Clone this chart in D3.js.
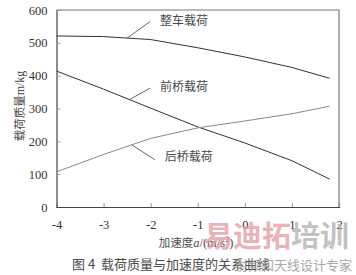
<!DOCTYPE html>
<html><head><meta charset="utf-8">
<script src="https://cdn.jsdelivr.net/npm/d3@7/dist/d3.min.js"></script>
<style>body{margin:0;background:#fff}svg{display:block}</style>
</head><body>
<svg id="c" width="356" height="275"></svg>
<script>
const accel = [-4, -3, -2, -1, 0, 1, 1.8];
const totalLoad = [521, 519, 510, 485, 457, 425, 392];
const frontLoad = [414, 359, 301, 244, 195, 141, 85];
const rearLoad  = [107, 160, 209, 241, 262, 284, 307];
const xTicks = [-4, -3, -2, -1, 0, 1, 2];
const yTicks = [0, 100, 200, 300, 400, 500, 600];
const seriesNames = ["整车载荷", "前桥载荷", "后桥载荷"];
// annotation anchors: [x on curve, label x, label y] in data units
const annoX = [-2.5, -2.45, -2.4];
const annoLabelX = [-1.8, -1.8, -1.7];
const annoLabelY = [568, 365, 153];

const svg = d3.select("#c");
const L = 56.5, R = 339, T = 10, B = 207;
const x = d3.scaleLinear().domain([-4, 2]).range([L, R]);
const y = d3.scaleLinear().domain([0, 600]).range([B, T]);
const serif = "'Liberation Serif','DejaVu Serif',serif";
const cjk = "'Noto Sans CJK SC','Noto Sans CJK JP',sans-serif";
const txt = "#4a4a4a";

// frame
svg.append("path").attr("d", `M${L},${T}H${R}V${B}`).attr("fill", "none").attr("stroke", "#777").attr("stroke-width", 1.2);

const yAxis = svg.append("g").attr("transform", `translate(${L},0)`)
  .call(d3.axisLeft(y).tickValues(yTicks).tickSize(-4).tickPadding(9).tickFormat(d3.format("d")));
const xAxis = svg.append("g").attr("transform", `translate(0,${B})`)
  .call(d3.axisBottom(x).tickValues(xTicks).tickSize(-4).tickPadding(13).tickFormat(d => d < 0 ? "-" + Math.abs(d) : d));
[yAxis, xAxis].forEach(g => {
  g.select(".domain").attr("stroke", "#444").attr("stroke-width", 1.2);
  g.selectAll(".tick line").attr("stroke", "#999");
  g.selectAll("text").attr("font-family", serif).attr("font-size", 12.5).attr("fill", "#333");
});

const line = d3.line().x((d, i) => x(accel[i])).y(d => y(d));
const series = [totalLoad, frontLoad, rearLoad];
const colors = ["#333", "#333", "#888"];
series.forEach((s, k) => {
  svg.append("path").attr("d", line(s)).attr("fill", "none").attr("stroke", colors[k]).attr("stroke-width", 1);
});

// annotations
function interp(s, xv) {
  return d3.scaleLinear().domain(accel).range(s)(xv);
}
series.forEach((s, k) => {
  const x0 = x(annoX[k]), y0 = y(interp(s, annoX[k]));
  const lx = x(annoLabelX[k]), ly = y(annoLabelY[k]);
  const ex = lx - 10, ey = k === 2 ? ly + 3 : ly + 1;
  svg.append("line").attr("x1", x0).attr("y1", y0).attr("x2", ex).attr("y2", ey)
    .attr("stroke", "#555").attr("stroke-width", 0.9);
  svg.append("text").attr("x", lx).attr("y", ly).attr("dy", "0.35em")
    .attr("font-family", cjk).attr("font-size", 12).attr("fill", txt).text(seriesNames[k]);
});

// axis titles
const yt = svg.append("text").attr("transform", "translate(24,106) rotate(-90)")
  .attr("text-anchor", "middle").attr("fill", txt);
yt.append("tspan").attr("font-family", cjk).attr("font-size", 11.5).text("载荷质量");
yt.append("tspan").attr("font-family", serif).attr("font-size", 12).text("m/kg");

const xt = svg.append("text").attr("x", 196).attr("y", 247).attr("text-anchor", "middle").attr("fill", txt);
xt.append("tspan").attr("font-family", cjk).attr("font-size", 11.5).text("加速度");
xt.append("tspan").attr("font-family", serif).attr("font-size", 12.5).attr("font-style", "italic").text("a");
xt.append("tspan").attr("font-family", serif).attr("font-size", 12.5).text("/(m/s");
xt.append("tspan").attr("font-family", serif).attr("font-size", 8).attr("dy", -5).text("2");
xt.append("tspan").attr("font-family", serif).attr("font-size", 12.5).attr("dy", 5).text(")");

// caption
svg.append("text").attr("x", 72).attr("y", 269).attr("font-family", cjk).attr("font-size", 13)
  .attr("fill", txt).attr("xml:space", "preserve").text("图 4  载荷质量与加速度的关系曲线");

// watermark
const wm = svg.append("text").attr("x", 204).attr("y", 247).attr("font-family", cjk)
  .attr("font-size", 29).attr("font-weight", "bold").attr("opacity", 0.75);
wm.append("tspan").attr("fill", "#e29aa2").text("易迪拓");
wm.append("tspan").attr("fill", "#b0b0b0").text("培训");
svg.append("text").attr("x", 352).attr("y", 270).attr("text-anchor", "end").attr("font-family", cjk)
  .attr("font-size", 13).attr("fill", "#999").attr("opacity", 0.85).text("射频和天线设计专家");
</script>
</body></html>
